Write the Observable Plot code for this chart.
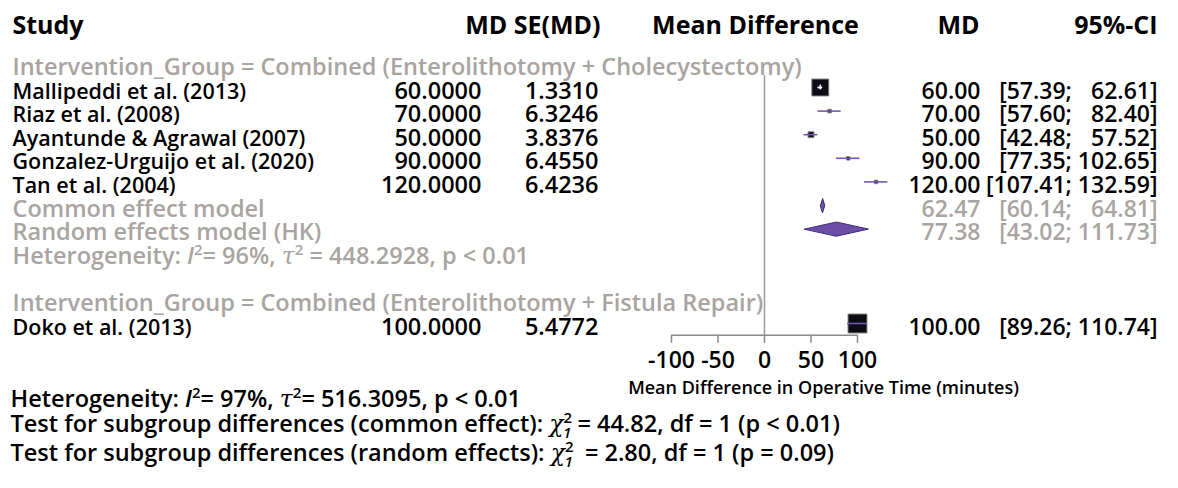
<!DOCTYPE html>
<html>
<head>
<meta charset="utf-8">
<script src="https://cdn.jsdelivr.net/npm/d3@7"></script>
<script src="https://cdn.jsdelivr.net/npm/@observablehq/plot@0.6"></script>
<style>
  html, body { margin: 0; padding: 0; background: #fff; }
  #chart svg text { white-space: pre; }
</style>
</head>
<body>
<div id="chart"></div>
<script>
// ---- Study-level data ----
const studies = [
  "Mallipeddi et al. (2013)",
  "Riaz et al. (2008)",
  "Ayantunde & Agrawal (2007)",
  "Gonzalez-Urguijo et al. (2020)",
  "Tan et al. (2004)",
  "Doko et al. (2013)"
];
const md = [60, 70, 50, 90, 120, 100];
const se = [1.3310, 6.3246, 3.8376, 6.4550, 6.4236, 5.4772];
const ciLower = [57.39, 57.60, 42.48, 77.35, 107.41, 89.26];
const ciUpper = [62.61, 82.40, 57.52, 102.65, 132.59, 110.74];
const studyGroup = [0, 0, 0, 0, 0, 1];

// ---- Subgroups and pooled estimates ----
const groupLabels = [
  "Intervention_Group = Combined (Enterolithotomy + Cholecystectomy)",
  "Intervention_Group = Combined (Enterolithotomy + Fistula Repair)"
];
const pooledModels = ["Common effect model", "Random effects model (HK)"];
const pooledMD = [62.47, 77.38];
const pooledLower = [60.14, 43.02];
const pooledUpper = [64.81, 111.73];
const groupHet = "Heterogeneity: I2= 96%, t2 = 448.2928, p < 0.01";

// ---- Axis ----
const xTicks = [-100, -50, 0, 50, 100];
const xLabel = "Mean Difference in Operative Time (minutes)";

// ---- Overall statistics ----
const footLines = [
  "Heterogeneity: I2= 97%, t2= 516.3095, p < 0.01",
  "Test for subgroup differences (common effect): X21 = 44.82, df = 1 (p < 0.01)",
  "Test for subgroup differences (random effects): X21  = 2.80, df = 1 (p = 0.09)"
];

// ---- Layout (pixels / rows) ----
const W = 1178, H = 488;
const rowTop = 87, rowStep = 23.6;
const xPx = [671, 857];
const col = {study: 12, md: 481, se: 598, mdr: 980, ci: 1157};
const headerRow = -2.75;
const axisRow = 10.5;
const refTopRow = -0.5;
const diamondHalf = 0.3;
const maxBoxR = 10.7;

const purple = "#7457b0";
const gray = "#a9a4a1";
const black = "#000";
const nameSize = 21.5, numSize = 23.5, ciSize = 23, labelSize = 23.5, headSize = 25, footSize = 23.5;

// ---- Build row table ----
const f4 = d3.format(".4f"), f2 = d3.format(".2f");
const FIG = "\u2007"; // figure space pads the CI bounds to a common width
const ciText = (lo, hi) => `[${f2(lo)}; ${f2(hi).padStart(6, FIG)}]`;

const studyRows = [];
const groupRows = [];
const pooledRows = [];
const hetRows = [];
let row = -1;
groupLabels.forEach((label, g) => {
  groupRows.push({label, row});
  row += 1;
  const idx = studies.map((_, i) => i).filter(i => studyGroup[i] === g);
  const wsum = d3.sum(idx, i => 1 / (se[i] * se[i]));
  idx.forEach(i => {
    const weight = (1 / (se[i] * se[i])) / wsum;
    const sidePx = maxBoxR * Math.sqrt(weight) * Math.sqrt(Math.PI);
    const halfUnits = (sidePx / 2) / ((xPx[1] - xPx[0]) / 200);
    studyRows.push({
      name: studies[i], md: md[i], se: se[i], lo: ciLower[i], hi: ciUpper[i], weight, row,
      inside: (ciUpper[i] - md[i]) < halfUnits && (md[i] - ciLower[i]) < halfUnits
    });
    row += 1;
  });
  if (idx.length > 1) {
    pooledModels.forEach((m, k) => {
      pooledRows.push({model: m, md: pooledMD[k], lo: pooledLower[k], hi: pooledUpper[k], row});
      row += 1;
    });
    hetRows.push({label: groupHet, row});
    row += 2;
  }
});

const diamonds = pooledRows.flatMap(d => [
  {model: d.model, x: d.lo, y: d.row},
  {model: d.model, x: d.md, y: d.row - diamondHalf},
  {model: d.model, x: d.hi, y: d.row},
  {model: d.model, x: d.md, y: d.row + diamondHalf}
]);

const headers = [
  {label: "Study", dx: col.study, anchor: "start"},
  {label: "MD SE(MD)", dx: 600, anchor: "end"},
  {label: "Mean Difference", dx: 755, anchor: "middle"},
  {label: "MD", dx: 979, anchor: "end"},
  {label: "95%-CI", dx: col.ci, anchor: "end"}
];
const footRows = [13.09, 14.15, 15.34];

const FONT = "Open Sans";
const base = {frameAnchor: "left", lineAnchor: "bottom", dy: 11, fontSize: nameSize, fontWeight: 600};
const txt = (data, opts) => Plot.text(data, {...base, ...opts});

const chart = Plot.plot({
  width: W,
  height: H,
  marginLeft: 0, marginRight: 0, marginTop: 0,
  marginBottom: H - (rowTop + axisRow * rowStep),
  style: {fontFamily: FONT, background: "#fff", color: "#000"},
  x: {domain: [-100, 100], range: xPx},
  y: {domain: [0, 10], range: [rowTop, rowTop + 10 * rowStep], axis: null},
  r: {type: "sqrt", domain: [0, 1], range: [0, maxBoxR]},
  marks: [
    // reference line at zero and axis baseline
    Plot.ruleX([0], {y1: refTopRow, y2: axisRow, stroke: "#9a9a9a", strokeWidth: 1.5}),
    Plot.ruleY([axisRow], {x1: -100, x2: 100, stroke: "#8a8a8a", strokeWidth: 1.5}),
    Plot.axisX(xTicks, {
      anchor: "bottom", tickSize: 8, tickPadding: 8, fontSize: 23, fontWeight: 600,
      tickFormat: d => String(d), label: null, stroke: "#8a8a8a", strokeWidth: 1.5
    }),
    // study boxes (area ~ weight) and confidence intervals
    Plot.dot(studyRows, {x: "md", y: "row", r: "weight", symbol: "square", fill: "#0c0c14", stroke: "#858585", strokeWidth: 1}),
    Plot.ruleY(studyRows.filter(d => !d.inside), {y: "row", x1: "lo", x2: "hi", stroke: purple, strokeWidth: 1.6}),
    Plot.ruleY(studyRows.filter(d => d.inside), {y: "row", x1: "lo", x2: "hi", stroke: "#fff", strokeWidth: 1.6}),
    Plot.ruleX(studyRows.filter(d => d.inside), {x: "md", y1: d => d.row - 0.1, y2: d => d.row + 0.1, stroke: "#fff", strokeWidth: 1.6}),
    // pooled diamonds
    Plot.line(diamonds, {x: "x", y: "y", z: "model", curve: "linear-closed", fill: "#6a4ea8", stroke: "#402c74", strokeWidth: 1}),
    // column headers
    ...headers.map(h => txt([h.label], {text: d => d, y: headerRow, dx: h.dx, textAnchor: h.anchor, fontSize: headSize, fontWeight: 700})),
    // subgroup labels
    txt(groupRows, {text: "label", y: "row", dx: col.study, textAnchor: "start", fill: gray, fontSize: labelSize}),
    // study rows
    txt(studyRows, {text: "name", y: "row", dx: col.study, textAnchor: "start", fill: black}),
    txt(studyRows, {text: d => f4(d.md), y: "row", dx: col.md, textAnchor: "end", fill: black, fontSize: numSize}),
    txt(studyRows, {text: d => f4(d.se), y: "row", dx: col.se, textAnchor: "end", fill: black, fontSize: numSize}),
    txt(studyRows, {text: d => f2(d.md), y: "row", dx: col.mdr, textAnchor: "end", fill: black, fontSize: ciSize}),
    txt(studyRows, {text: d => ciText(d.lo, d.hi), y: "row", dx: col.ci, textAnchor: "end", fill: black, fontSize: ciSize}),
    // pooled rows
    txt(pooledRows, {text: "model", y: "row", dx: col.study, textAnchor: "start", fill: gray, fontSize: labelSize}),
    txt(pooledRows, {text: d => f2(d.md), y: "row", dx: col.mdr, textAnchor: "end", fill: gray, fontSize: ciSize}),
    txt(pooledRows, {text: d => ciText(d.lo, d.hi), y: "row", dx: col.ci, textAnchor: "end", fill: gray, fontSize: ciSize}),
    txt(hetRows, {text: "label", y: "row", dx: col.study, textAnchor: "start", fill: gray, fontSize: labelSize}),
    // axis title
    txt([xLabel], {text: d => d, y: 12.54, dx: 823, textAnchor: "middle", fontSize: 18}),
    // overall statistics
    ...footLines.map((s, i) => txt([s], {text: d => d, y: footRows[i], dx: 10, textAnchor: "start", fontSize: footSize, fill: black}))
  ]
});

// ---- Rich text: italic symbols with super/subscripts ----
const richParts = {
  [groupHet]: [{t: "Heterogeneity: "}, {t: "I", it: 1}, {t: "2", sup: 1}, {t: "= 96%, "}, {t: "τ", it: 1, serif: 1}, {t: "2", sup: 1}, {t: " = 448.2928, p < 0.01"}],
  [footLines[0]]: [{t: "Heterogeneity: "}, {t: "I", it: 1}, {t: "2", sup: 1}, {t: "= 97%, "}, {t: "τ", it: 1, serif: 1}, {t: "2", sup: 1}, {t: "= 516.3095, p < 0.01"}],
  [footLines[1]]: [{t: "Test for subgroup differences (common effect): "}, {t: "χ", it: 1, serif: 1}, {t: "2", sup: 1}, {t: "1", sub: 1, it: 1, dx: -9}, {t: " = 44.82, df = 1 (p < 0.01)"}],
  [footLines[2]]: [{t: "Test for subgroup differences (random effects): "}, {t: "χ", it: 1, serif: 1}, {t: "2", sup: 1}, {t: "1", sub: 1, it: 1, dx: -9}, {t: "  = 2.80, df = 1 (p = 0.09)"}]
};
d3.select(chart).selectAll("text").each(function () {
  const parts = richParts[this.textContent];
  if (!parts) return;
  const el = d3.select(this);
  el.text(null);
  let shift = 0;
  for (const p of parts) {
    const target = p.sup ? -9 : p.sub ? 6 : 0;
    const ts = el.append("tspan").text(p.t);
    if (target !== shift) { ts.attr("dy", target - shift); shift = target; }
    if (p.sup || p.sub) ts.attr("font-size", 15);
    if (p.it) ts.attr("font-style", "italic");
    if (p.serif) ts.attr("font-family", "DejaVu Serif").attr("font-weight", 400);
    if (p.dx) ts.attr("dx", p.dx);
  }
});

document.getElementById("chart").appendChild(chart);
</script>
</body>
</html>
